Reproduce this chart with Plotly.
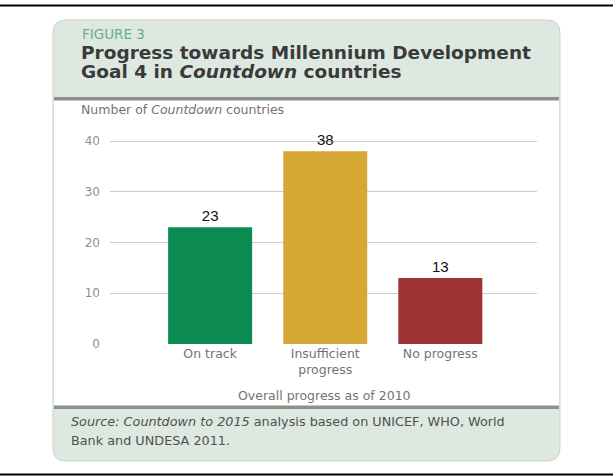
import plotly.graph_objects as go

categories = ["On track", "Insufficient<br>progress", "No progress"]
values = [23, 38, 13]
bar_colors = ["#0b8a52", "#d6a835", "#9e3333"]
y_ticks = [0, 10, 20, 30, 40]

FIG_W, FIG_H = 613, 476
L, R, T, B = 110, 76, 131, 132
PW = FIG_W - L - R
PH = FIG_H - T - B


def px(x):
    return (x - L) / PW


def py(y):
    return (FIG_H - B - y) / PH


def rounded_path(x0, y0, x1, y1, r):
    pts = [
        ("M", [(x0 + r, y0)]),
        ("L", [(x1 - r, y0)]),
        ("Q", [(x1, y0), (x1, y0 + r)]),
        ("L", [(x1, y1 - r)]),
        ("Q", [(x1, y1), (x1 - r, y1)]),
        ("L", [(x0 + r, y1)]),
        ("Q", [(x0, y1), (x0, y1 - r)]),
        ("L", [(x0, y0 + r)]),
        ("Q", [(x0, y0), (x0 + r, y0)]),
    ]
    s = ""
    for cmd, ps in pts:
        s += cmd + " " + " ".join(f"{px(a):.5f},{py(b):.5f}" for a, b in ps) + " "
    return s + "Z"


def rect(x0, y0, x1, y1, fill, line=None):
    return dict(type="rect", xref="paper", yref="paper", layer="below",
                x0=px(x0), x1=px(x1), y0=py(y1), y1=py(y0),
                fillcolor=fill, line=dict(width=0) if line is None else line)


FONT = "DejaVu Sans, Arial, sans-serif"
HEADER_BG = "#dde8e1"

fig = go.Figure()
fig.add_trace(go.Bar(
    x=categories, y=values, marker=dict(color=bar_colors, line=dict(width=0)),
    width=0.73, text=[str(v) for v in values], textposition="outside",
    textfont=dict(family="Liberation Sans, Arial", size=15, color="#111111"),
    cliponaxis=False, hoverinfo="skip",
))

shapes = [
    dict(type="path", xref="paper", yref="paper", layer="below",
         path=rounded_path(53, 20, 560, 461, 13), fillcolor=HEADER_BG,
         line=dict(color="#c9d3cd", width=1)),
    rect(54, 100, 559, 407, "#ffffff"),
    rect(54, 97, 559, 100.5, "#8c918e"),
    rect(54, 405.5, 559, 409, "#8c918e"),
    dict(type="line", xref="paper", yref="paper", x0=px(0), x1=px(613),
         y0=py(5.5), y1=py(5.5), line=dict(color="#000000", width=2)),
    dict(type="line", xref="paper", yref="paper", x0=px(0), x1=px(613),
         y0=py(474.5), y1=py(474.5), line=dict(color="#000000", width=2)),
]


def note(text, x, y, size, color, xanchor="left", family=FONT):
    return dict(text=text, xref="paper", yref="paper", x=px(x), y=py(y),
                xanchor=xanchor, yanchor="middle", showarrow=False,
                font=dict(family=family, size=size, color=color))


annotations = [
    note("FIGURE 3", 80, 34, 13.5, "#6aae89"),
    note("<b>Progress towards Millennium Development</b>", 79, 52.5, 18.5, "#3a3a3a"),
    note("<b>Goal 4 in <i>Countdown</i> countries</b>", 79, 71.5, 18.5, "#3a3a3a"),
    note("Number of <i>Countdown</i> countries", 79, 110, 12.5, "#737373"),
    note("Overall progress as of 2010", 324, 395, 12.5, "#737373", xanchor="center"),
    note("<i>Source: Countdown to 2015</i> analysis based on UNICEF, WHO, World",
         69, 421.5, 12.8, "#505050"),
    note("Bank and UNDESA 2011.", 69, 440, 12.8, "#505050"),
]

fig.update_layout(
    width=FIG_W, height=FIG_H,
    margin=dict(l=L, r=R, t=T, b=B),
    paper_bgcolor="#ffffff", plot_bgcolor="rgba(0,0,0,0)",
    showlegend=False, bargap=0.2,
    shapes=shapes, annotations=annotations,
    xaxis=dict(range=[-0.87, 2.84], showgrid=False, zeroline=False, showline=False,
               tickfont=dict(family=FONT, size=12.5, color="#737373"), ticks=""),
    yaxis=dict(range=[0, 42], tickvals=y_ticks, showgrid=True, gridcolor="#cccccc",
               gridwidth=1, zeroline=False, showline=False, ticks="",
               ticklabelstandoff=9,
               tickfont=dict(family=FONT, size=12, color="#8f8f8f")),
)

fig.write_html("out.html", config={"displayModeBar": False},
               post_script="document.body.style.margin='0';")
